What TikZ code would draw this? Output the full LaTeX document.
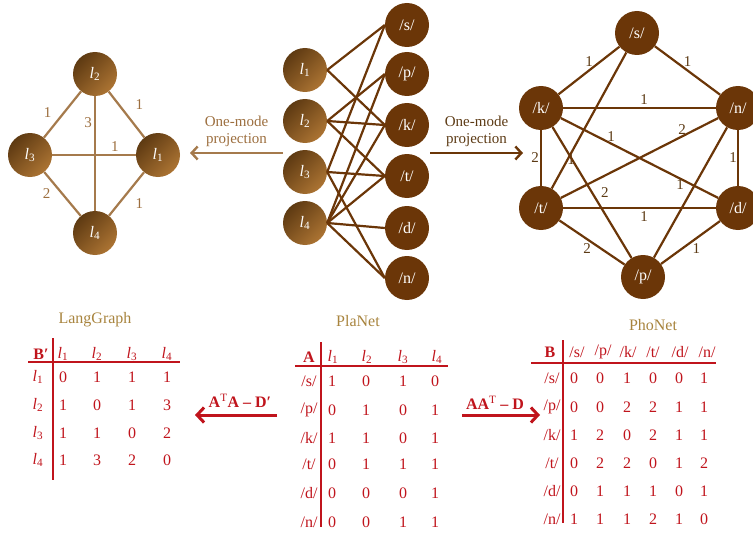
\documentclass[tikz,border=0pt]{standalone}
\usepackage{fontspec}
\setmainfont{Liberation Serif}
\usetikzlibrary{arrows.meta,positioning}

\definecolor{darkbrown}{HTML}{6B3608}
\definecolor{shadeD}{HTML}{5E3A12}
\definecolor{shadeL}{HTML}{AC7433}
\definecolor{tanline}{HTML}{A57A4C}
\definecolor{tantext}{HTML}{9C6E3E}
\definecolor{brtext}{HTML}{5C3A14}
\definecolor{matred}{HTML}{C0141C}
\definecolor{titlebrown}{HTML}{A8843E}

\newcommand{\li}[1]{\textit{l}\textsubscript{#1}}

\begin{document}
\begin{tikzpicture}[x=1pt,y=-1pt]
    % Styles
    \tikzset{
        lang/.style={circle, minimum size=44pt, inner sep=0pt, top color=shadeD, bottom color=shadeL, shading angle=45, text=white, font=\fontsize{16}{18}\selectfont},
        phon/.style={circle, minimum size=44pt, inner sep=0pt, fill=darkbrown, text=white, font=\fontsize{16}{18}\selectfont},
        ledge/.style={draw=tanline, line width=2.2pt},
        pedge/.style={draw=darkbrown, line width=2.2pt},
        wlab/.style={font=\fontsize{15}{17}\selectfont, text=tantext, inner sep=0pt},
        plab/.style={font=\fontsize{15}{17}\selectfont, text=brtext, inner sep=0pt},
        cell/.style={font=\fontsize{16}{18}\selectfont, text=matred, inner sep=0pt},
        rule/.style={draw=matred, line width=2.8pt},
        title/.style={font=\fontsize{16}{18}\selectfont, text=titlebrown},
        proj/.style={line width=2.4pt, -{Straight Barb[length=6pt,width=13pt]}},
        opArrow/.style={draw=matred, line width=3pt, -{Straight Barb[length=7pt,width=15pt]}}
    }
    \useasboundingbox (0,0) rectangle (753,535);

    % LangGraph
    \node[lang] (g2) at (95,74) {\li{2}};
    \node[lang] (g3) at (30,155) {\li{3}};
    \node[lang] (g1) at (158,155) {\li{1}};
    \node[lang] (g4) at (95,233) {\li{4}};
    \draw[ledge] (g2) -- node[wlab, pos=0.45, left=12pt] {1} (g3);
    \draw[ledge] (g2) -- node[wlab, above right=4pt and 8pt] {1} (g1);
    \draw[ledge] (g2) -- node[wlab, pos=0.23, left=2pt] {3} (g4);
    \draw[ledge] (g3) -- node[wlab, pos=0.75, above=2pt] {1} (g1);
    \draw[ledge] (g3) -- node[wlab, left=11pt] {2} (g4);
    \draw[ledge] (g1) -- node[wlab, below right=3pt and 8pt] {1} (g4);

    % PlaNet (bipartite)
    \node[lang] (l1) at (305,70) {\li{1}};
    \node[lang] (l2) at (305,121) {\li{2}};
    \node[lang] (l3) at (305,172) {\li{3}};
    \node[lang] (l4) at (305,223) {\li{4}};
    \node[phon] (s) at (407,25) {/s/};
    \node[phon] (p) at (407,74) {/p/};
    \node[phon] (k) at (407,125) {/k/};
    \node[phon] (t) at (407,176) {/t/};
    \node[phon] (d) at (407,228) {/d/};
    \node[phon] (n) at (407,278) {/n/};
    \foreach \a/\b in {l1/s, l1/k, l2/p, l2/k, l2/t, l3/s, l3/t, l3/n, l4/p, l4/k, l4/t, l4/d, l4/n}
        \draw[pedge] (\a.east) -- (\b.west);

    % One-mode projections
    \coordinate (projL) at (283,153);
    \coordinate (projLend) at (190,153);
    \coordinate (projR) at (430,153);
    \coordinate (projRend) at (523,153);
    \draw[proj, tanline] (projL) -- node[above=2pt, align=center, text=tantext, font=\fontsize{15}{17}\selectfont] {One-mode\\projection} (projLend);
    \draw[proj, darkbrown] (projR) -- node[above=2pt, align=center, text=brtext, font=\fontsize{15}{17}\selectfont] {One-mode\\projection} (projRend);

    % PhoNet
    \node[phon] (ps) at (637,33) {/s/};
    \node[phon] (pk) at (541,108) {/k/};
    \node[phon] (pn) at (738,108) {/n/};
    \node[phon] (pt) at (541,208) {/t/};
    \node[phon] (pd) at (738,208) {/d/};
    \node[phon] (pp) at (643,277) {/p/};
    \draw[pedge] (ps) -- node[plab, above=3pt] {1} (pk);
    \draw[pedge] (ps) -- node[plab, above=3pt] {1} (pn);
    \draw[pedge] (ps) -- node[plab, pos=0.79, right=-1pt] {1} (pt);
    \draw[pedge] (pk) -- node[plab, pos=0.53, above=2pt] {1} (pn);
    \draw[pedge] (pk) -- node[plab, left=1pt] {2} (pt);
    \draw[pedge] (pk) -- node[plab, pos=0.32, above=1pt] {1} (pd);
    \draw[pedge] (pk) -- node[plab, right=8pt] {2} (pp);
    \draw[pedge] (pt) -- node[plab, pos=0.77, above=1pt] {2} (pn);
    \draw[pedge] (pn) -- node[plab, left=0pt] {1} (pd);
    \draw[pedge] (pn) -- node[plab, pos=0.44, left=10pt] {1} (pp);
    \draw[pedge] (pt) -- node[plab, pos=0.53, below=2pt] {1} (pd);
    \draw[pedge] (pt) -- node[plab, below left=0pt and 0pt] {2} (pp);
    \draw[pedge] (pd) -- node[plab, below right=0pt and 1pt] {1} (pp);

    % Titles
    \node[title] (tLang) at (95,320) {LangGraph};
    \node[title] (tPla) at (358,321) {PlaNet};
    \node[title] (tPho) at (653,325) {PhoNet};

    % Matrix B' (LangGraph)
    \draw[rule] (53,338) -- (53,480);
    \draw[rule] (28,362) -- (180,362);
    \node[cell] (lgB) at (41,354) {\textbf{B′}};
    \foreach \x/\lab [count=\c] in {63/\li{1}, 97/\li{2}, 132/\li{3}, 167/\li{4}}
        \node[cell] (lgh\c) at (\x,354) {\lab};
    \foreach \y/\lab/\va/\vb/\vc/\vd [count=\r] in {377/\li{1}/0/1/1/1, 405/\li{2}/1/0/1/3, 433/\li{3}/1/1/0/2, 460/\li{4}/1/3/2/0} {
        \node[cell] (lgr\r) at (38,\y) {\lab};
        \node[cell] (lg\r a) at (63,\y) {\va};
        \node[cell] (lg\r b) at (97,\y) {\vb};
        \node[cell] (lg\r c) at (132,\y) {\vc};
        \node[cell] (lg\r d) at (167,\y) {\vd};
    }

    % Matrix A (PlaNet)
    \draw[rule] (321,342) -- (321,527);
    \draw[rule] (295,366) -- (448,366);
    \node[cell] (plA) at (309,357) {\textbf{A}};
    \foreach \x/\lab [count=\c] in {333/\li{1}, 367/\li{2}, 403/\li{3}, 437/\li{4}}
        \node[cell] (plh\c) at (\x,357) {\lab};
    \foreach \y/\lab/\va/\vb/\vc/\vd [count=\r] in {381/s/1/0/1/0, 410/p/0/1/0/1, 438/k/1/1/0/1, 464/t/0/1/1/1, 493/d/0/0/0/1, 522/n/0/0/1/1} {
        \node[cell] (plr\r) at (309,\y) {/\lab/};
        \node[cell] (pl\r a) at (332,\y) {\va};
        \node[cell] (pl\r b) at (366,\y) {\vb};
        \node[cell] (pl\r c) at (403,\y) {\vc};
        \node[cell] (pl\r d) at (435,\y) {\vd};
    }

    % Matrix B (PhoNet)
    \draw[rule] (563,340) -- (563,523);
    \draw[rule] (531,363) -- (716,363);
    \node[cell] (phB) at (550,352) {\textbf{B}};
    \foreach \x/\lab [count=\c] in {577/s, 603/p, 628/k, 653/t, 680/d, 707/n}
        \node[cell] (phh\c) at (\x,352) {/\lab/};
    \foreach \y/\lab/\va/\vb/\vc/\vd/\ve/\vf [count=\r] in {378/s/0/0/1/0/0/1, 407/p/0/0/2/2/1/1, 435/k/1/2/0/2/1/1, 463/t/0/2/2/0/1/2, 491/d/0/1/1/1/0/1, 519/n/1/1/1/2/1/0} {
        \node[cell] (phr\r) at (552,\y) {/\lab/};
        \node[cell] (ph\r a) at (574,\y) {\va};
        \node[cell] (ph\r b) at (600,\y) {\vb};
        \node[cell] (ph\r c) at (627,\y) {\vc};
        \node[cell] (ph\r d) at (653,\y) {\vd};
        \node[cell] (ph\r e) at (679,\y) {\ve};
        \node[cell] (ph\r f) at (704,\y) {\vf};
    }

    % Operations
    \coordinate (opL) at (277,415);
    \coordinate (opLend) at (195,415);
    \coordinate (opR) at (462,415);
    \coordinate (opRend) at (540,415);
    \draw[opArrow] (opL) -- node[cell, above=6pt, xshift=4pt] {\textbf{A{\mdseries\textsuperscript{T}}A – D′}} (opLend);
    \draw[opArrow] (opR) -- node[cell, above=4pt, xshift=-6pt] {\textbf{AA{\mdseries\textsuperscript{T}} – D}} (opRend);
\end{tikzpicture}
\end{document}
